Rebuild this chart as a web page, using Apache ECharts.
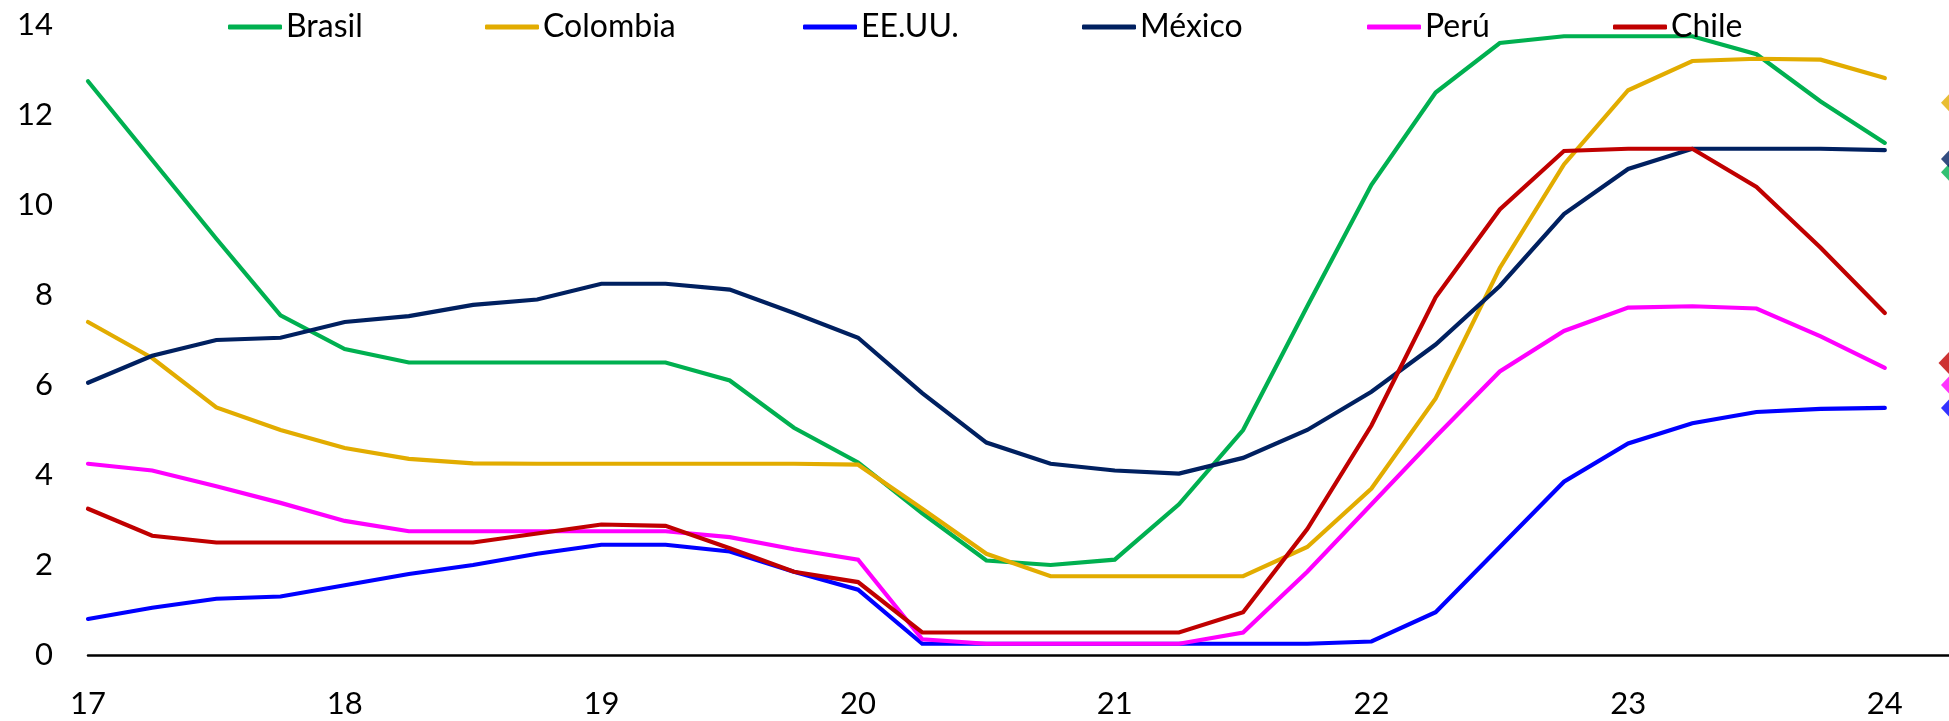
<!DOCTYPE html>
<html>
<head>
<meta charset="utf-8">
<script src="https://cdn.jsdelivr.net/npm/echarts@6/dist/echarts.min.js"></script>
<style>
html,body{margin:0;padding:0;background:#fff;}
#c{width:1949px;height:721px;}
</style>
</head>
<body>
<div id="c"></div>
<script>
// Quarterly positions (year fraction, '17 = 2017 Q1 ... '24)
var quarters = [17, 17.25, 17.5, 17.75, 18, 18.25, 18.5, 18.75, 19, 19.25, 19.5, 19.75,
  20, 20.25, 20.5, 20.75, 21, 21.25, 21.5, 21.75, 22, 22.25, 22.5, 22.75, 23, 23.25, 23.5, 23.75, 24];
var xTickLabels = ['17', '18', '19', '20', '21', '22', '23', '24'];
var seriesNames = ['Brasil', 'Colombia', 'EE.UU.', 'México', 'Perú', 'Chile'];

var brasil   = [12.75, 11.0, 9.25, 7.55, 6.8, 6.5, 6.5, 6.5, 6.5, 6.5, 6.1, 5.05,
  4.28, 3.15, 2.1, 2.0, 2.12, 3.35, 5.0, 7.75, 10.45, 12.5, 13.6, 13.75, 13.75, 13.75, 13.35, 12.3, 11.38];
var colombia = [7.4, 6.6, 5.5, 5.0, 4.6, 4.36, 4.26, 4.25, 4.25, 4.25, 4.25, 4.25,
  4.23, 3.25, 2.25, 1.75, 1.75, 1.75, 1.75, 2.4, 3.7, 5.7, 8.6, 10.9, 12.55, 13.2, 13.25, 13.23, 12.82];
var eeuu     = [0.8, 1.05, 1.25, 1.3, 1.55, 1.8, 2.0, 2.25, 2.45, 2.45, 2.3, 1.85,
  1.45, 0.25, 0.25, 0.25, 0.25, 0.25, 0.25, 0.25, 0.3, 0.95, 2.4, 3.85, 4.7, 5.15, 5.4, 5.47, 5.49];
var mexico   = [6.05, 6.65, 7.0, 7.05, 7.4, 7.53, 7.78, 7.9, 8.25, 8.25, 8.12, 7.6,
  7.05, 5.82, 4.72, 4.25, 4.1, 4.03, 4.38, 5.0, 5.85, 6.9, 8.2, 9.8, 10.8, 11.25, 11.25, 11.25, 11.22];
var peru     = [4.25, 4.1, 3.75, 3.38, 2.98, 2.75, 2.75, 2.75, 2.75, 2.75, 2.62, 2.35,
  2.12, 0.35, 0.25, 0.25, 0.25, 0.25, 0.5, 1.85, 3.35, 4.85, 6.3, 7.2, 7.72, 7.75, 7.7, 7.08, 6.38];
var chile    = [3.25, 2.65, 2.5, 2.5, 2.5, 2.5, 2.5, 2.7, 2.9, 2.87, 2.37, 1.85,
  1.62, 0.5, 0.5, 0.5, 0.5, 0.5, 0.95, 2.8, 5.1, 7.95, 9.9, 11.2, 11.25, 11.25, 10.4, 9.05, 7.6];

// End-point markers (diamonds) shown just after the last quarter
var markerX = 24.25;
var markerValues = [10.73, 12.27, 5.49, 11.02, 6.0, 6.49]; // same order as seriesNames

var colors = ['#00B050', '#E2AC00', '#0000FF', '#002060', '#FF00FF', '#C00000'];
var allData = [brasil, colombia, eeuu, mexico, peru, chile];

var FONT = 'Lato, "Open Sans", sans-serif';

var series = [];
allData.forEach(function (arr, i) {
  series.push({
    name: seriesNames[i],
    type: 'line',
    data: quarters.map(function (q, k) { return [q, arr[k]]; }),
    showSymbol: false,
    symbol: 'none',
    lineStyle: { width: 4.2, color: colors[i], cap: 'round', join: 'miter' },
    itemStyle: { color: colors[i] },
    z: 3 + i,
    animation: false
  });
});
allData.forEach(function (arr, i) {
  series.push({
    name: seriesNames[i] + ' marker',
    type: 'scatter',
    data: [[markerX, markerValues[i]]],
    symbol: 'diamond',
    symbolSize: i === 5 ? [21, 22] : [16, 17],
    itemStyle: { color: colors[i] },
    clip: false,
    z: 10 + i,
    animation: false
  });
});

var legendLefts = [223, 480, 798, 1077, 1362, 1608];
var legends = seriesNames.map(function (n, i) {
  return {
    data: [n],
    left: legendLefts[i],
    top: 6,
    icon: 'roundRect',
    itemWidth: 54,
    itemHeight: 5,
    itemGap: 0,
    selectedMode: false,
    textStyle: { fontFamily: FONT, fontSize: 32, color: '#000', padding: [0, 0, 0, -1] }
  };
});

var chart = echarts.init(document.getElementById('c'), null, { renderer: 'canvas' });
chart.setOption({
  backgroundColor: '#fff',
  animation: false,
  legend: legends,
  grid: { left: 88, right: -3, top: 25, bottom: 66, containLabel: false },
  xAxis: {
    type: 'value',
    min: 17,
    max: markerX,
    interval: 1,
    axisLine: { show: true, onZero: false, lineStyle: { color: '#000', width: 2.5 } },
    axisTick: { show: false },
    splitLine: { show: false },
    axisLabel: {
      fontFamily: FONT, fontSize: 31, color: '#000', margin: 33,
      showMaxLabel: false,
      formatter: function (v) {
        var idx = Math.round(v) - 17;
        return (Math.abs(v - Math.round(v)) < 1e-6 && xTickLabels[idx]) ? xTickLabels[idx] : '';
      }
    }
  },
  yAxis: {
    type: 'value',
    min: 0,
    max: 14,
    interval: 2,
    axisLine: { show: false },
    axisTick: { show: false },
    splitLine: { show: false },
    axisLabel: { fontFamily: FONT, fontSize: 31, color: '#000', margin: 35 }
  },
  series: series
});
</script>
</body>
</html>
